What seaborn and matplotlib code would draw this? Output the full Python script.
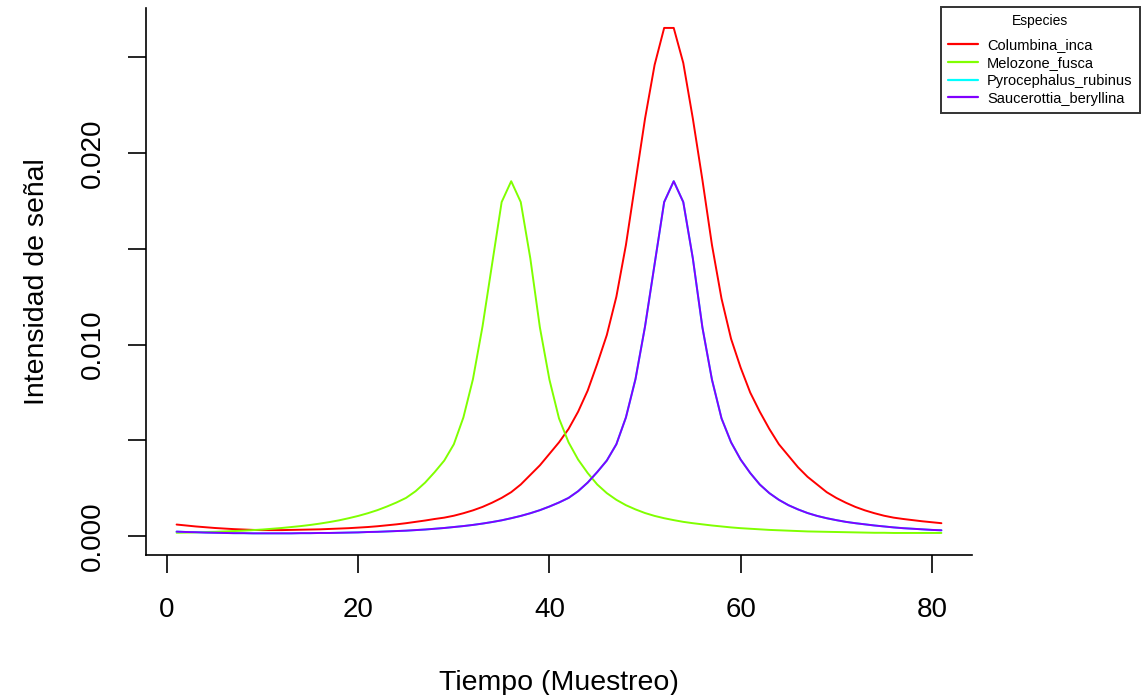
import numpy as np
import pandas as pd
import matplotlib
matplotlib.use("Agg")
import matplotlib.pyplot as plt
from matplotlib.ticker import MultipleLocator, FuncFormatter
import seaborn as sns

# Values (muestreo 1..81)
tiempo = list(range(1, 82))

columbina_inca = [
    0.00061, 0.00056, 0.00051, 0.00047, 0.00043, 0.00040, 0.00037, 0.00035, 0.00033, 0.00032,
    0.00032, 0.00032, 0.00033, 0.00034, 0.00035, 0.00036, 0.00038, 0.00040, 0.00042, 0.00045,
    0.00048, 0.00052, 0.00057, 0.00062, 0.00068, 0.00075, 0.00082, 0.00090, 0.00097, 0.00107,
    0.00120, 0.00135, 0.00153, 0.00175, 0.00200, 0.00230, 0.00270, 0.00320, 0.00370, 0.00430,
    0.00490, 0.00560, 0.00650, 0.00760, 0.00900, 0.01050, 0.01250, 0.01520, 0.01850, 0.02180,
    0.02460, 0.02653, 0.02653, 0.02470, 0.02180, 0.01860, 0.01520, 0.01240, 0.01030, 0.00880,
    0.00750, 0.00650, 0.00560, 0.00480, 0.00420, 0.00360, 0.00310, 0.00270, 0.00230, 0.00200,
    0.00175, 0.00153, 0.00135, 0.00120, 0.00107, 0.00097, 0.00090, 0.00084, 0.00078, 0.00073,
    0.00068,
]

melozone_fusca = [
    0.00018, 0.00019, 0.00020, 0.00022, 0.00023, 0.00025, 0.00027, 0.00029, 0.00032, 0.00035,
    0.00039, 0.00043, 0.00048, 0.00053, 0.00059, 0.00066, 0.00074, 0.00083, 0.00094, 0.00106,
    0.00120, 0.00136, 0.00155, 0.00176, 0.00200, 0.00235, 0.00280, 0.00335, 0.00395, 0.00480,
    0.00620, 0.00820, 0.01095, 0.01420, 0.01744, 0.01853, 0.01744, 0.01450, 0.01090, 0.00817,
    0.00615, 0.00490, 0.00400, 0.00330, 0.00270, 0.00225, 0.00190, 0.00162, 0.00140, 0.00121,
    0.00106, 0.00094, 0.00084, 0.00075, 0.00068, 0.00062, 0.00056, 0.00051, 0.00046, 0.00042,
    0.00039, 0.00036, 0.00033, 0.00031, 0.00029, 0.00027, 0.00025, 0.00024, 0.00023, 0.00022,
    0.00021, 0.00020, 0.00019, 0.00018, 0.00018, 0.00017, 0.00017, 0.00017, 0.00017, 0.00017,
    0.00017,
]

saucerottia_beryllina = [
    0.00024, 0.00022, 0.00021, 0.00019, 0.00018, 0.00017, 0.00016, 0.00016, 0.00015, 0.00015,
    0.00015, 0.00015, 0.00015, 0.00016, 0.00016, 0.00017, 0.00017, 0.00018, 0.00019, 0.00020,
    0.00022, 0.00023, 0.00025, 0.00027, 0.00029, 0.00032, 0.00035, 0.00039, 0.00043, 0.00048,
    0.00053, 0.00059, 0.00066, 0.00074, 0.00083, 0.00094, 0.00106, 0.00120, 0.00136, 0.00155,
    0.00176, 0.00200, 0.00235, 0.00280, 0.00335, 0.00395, 0.00480, 0.00620, 0.00820, 0.01095,
    0.01420, 0.01744, 0.01853, 0.01744, 0.01450, 0.01090, 0.00817, 0.00615, 0.00490, 0.00400,
    0.00330, 0.00270, 0.00225, 0.00190, 0.00162, 0.00140, 0.00121, 0.00106, 0.00094, 0.00084,
    0.00075, 0.00068, 0.00062, 0.00056, 0.00051, 0.00046, 0.00042, 0.00039, 0.00036, 0.00033,
    0.00031,
]

# Pyrocephalus lies exactly under Saucerottia in the picture
pyrocephalus_rubinus = list(saucerottia_beryllina)

especies = ["Columbina_inca", "Melozone_fusca", "Pyrocephalus_rubinus", "Saucerottia_beryllina"]
colores = ["#FF0000", "#80FF00", "#00FFFF", "#8000FF"]
series = [columbina_inca, melozone_fusca, pyrocephalus_rubinus, saucerottia_beryllina]

df = pd.concat(
    [pd.DataFrame({"Tiempo": tiempo, "Intensidad": vals, "Especies": sp})
     for sp, vals in zip(especies, series)],
    ignore_index=True,
)

sns.set_style("ticks")
plt.rcParams["font.family"] = ["Liberation Sans", "DejaVu Sans"]
plt.rcParams["text.color"] = "black"
plt.rcParams["axes.labelcolor"] = "black"

fig = plt.figure(figsize=(11.41, 6.95), dpi=100)
ax = fig.add_axes([146 / 1141, 1 - 555 / 695, 826 / 1141, 547 / 695])

sns.lineplot(data=df, x="Tiempo", y="Intensidad", hue="Especies",
             hue_order=especies, palette=colores, linewidth=1.4, ax=ax)

ax.set_xlim(-2.2, 84.2)
ax.set_ylim(-0.00098, 0.02757)

ax.xaxis.set_major_locator(MultipleLocator(20))
ax.yaxis.set_major_locator(MultipleLocator(0.005))
ax.yaxis.set_major_formatter(FuncFormatter(
    lambda v, p: f"{v:.3f}" if round(v / 0.005) % 2 == 0 else ""))

for s in ["top", "right"]:
    ax.spines[s].set_visible(False)
for s in ["left", "bottom"]:
    ax.spines[s].set_linewidth(1.2)
    ax.spines[s].set_color("black")

ax.tick_params(axis="both", length=13, width=1.2, color="black",
               labelsize=20, labelcolor="black")
ax.tick_params(axis="x", pad=17)
ax.tick_params(axis="y", pad=16)
for lab in ax.get_yticklabels():
    lab.set_rotation(90)
    lab.set_va("center")

ax.set_xlabel("Tiempo (Muestreo)", fontsize=20.5, color="black")
ax.set_ylabel("Intensidad de señal", fontsize=20.5, color="black")
ax.xaxis.set_label_coords(0.5, -0.211)
ax.yaxis.set_label_coords(-0.116, 0.5)

handles, labels = ax.get_legend_handles_labels()
ax.get_legend().remove()
leg = fig.legend(handles, labels, title="Especies", loc="upper left",
                 bbox_to_anchor=(941 / 1141, 1 - 7 / 695), borderaxespad=0,
                 fontsize=10.5, title_fontsize=10, frameon=True, fancybox=False,
                 handlelength=2.05, handletextpad=0.6, labelspacing=0.27,
                 borderpad=0.5)
leg._legend_box.sep = 6.8
leg.get_frame().set_edgecolor("black")
leg.get_frame().set_linewidth(1.4)
for line in leg.get_lines():
    line.set_linewidth(1.6)

fig.savefig("out.png", dpi=100)
